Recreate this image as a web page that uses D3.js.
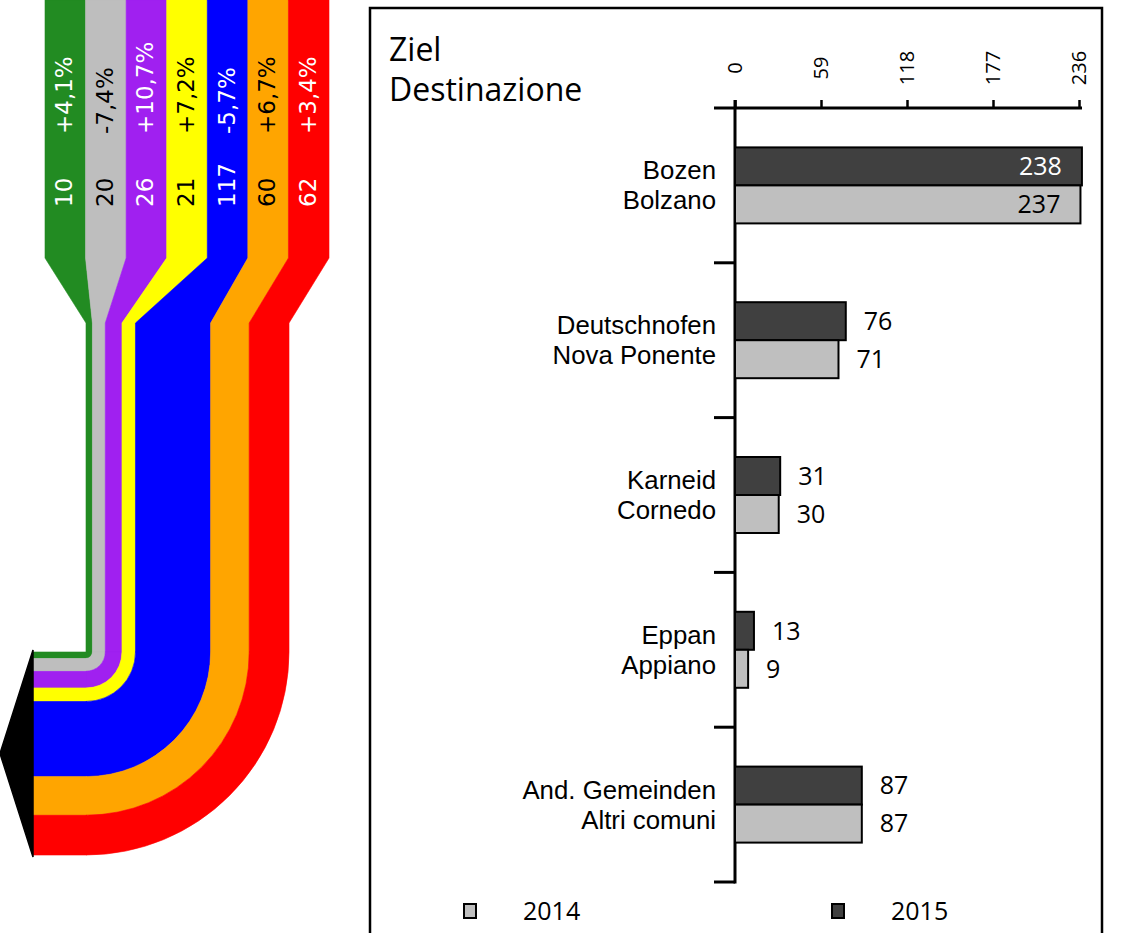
<!DOCTYPE html>
<html>
<head>
<meta charset="utf-8">
<script src="https://cdn.jsdelivr.net/npm/d3@7"></script>
<style>
  html, body { margin: 0; padding: 0; background: #fff; }
  svg { display: block; }
</style>
</head>
<body>
<svg id="chart" width="1122" height="933"></svg>
<script>
// ---- Flow (left): commuter streams by origin ----
const flowValues  = [10, 20, 26, 21, 117, 60, 62];
const flowChanges = ["+4,1%", "-7,4%", "+10,7%", "+7,2%", "-5,7%", "+6,7%", "+3,4%"];
const flowColors  = ["#228b22", "#bebebe", "#a020f0", "#ffff00", "#0000ff", "#ffa500", "#ff0000"];
const flowInk     = ["#fff", "#000", "#fff", "#000", "#fff", "#000", "#fff"];

// ---- Bars (right): destinations ----
const destinations = [["Bozen", "Bolzano"], ["Deutschnofen", "Nova Ponente"], ["Karneid", "Cornedo"],
                      ["Eppan", "Appiano"], ["And. Gemeinden", "Altri comuni"]];
const values2015 = [238, 76, 31, 13, 87];
const values2014 = [237, 71, 30, 9, 87];
const axisTicks = [0, 59, 118, 177, 236];
const years = ["2014", "2015"];
const yearColors = ["#bfbfbf", "#404040"];

const svg = d3.select("#chart");
const FLOW_FONT = "'DejaVu Sans', Verdana, sans-serif";
const FONT = "'Open Sans', 'Noto Sans', sans-serif";
const LABEL_FONT = "'Liberation Sans', Arial, sans-serif";

// ================= Flow diagram =================
const total = d3.sum(flowValues);
const cum = d3.cumsum([0, ...flowValues]);
const colX = d3.scaleBand().domain(d3.range(flowValues.length)).range([45, 329]).paddingInner(0);
const w = d3.scaleLinear().domain([0, total]).range([0, 203]);

const cx = 86, cy = 652;            // corner of the bend
const yTopEnd = 258, yNarrow = 323; // taper from columns into the bundle
const xLeft = 33;                   // bundle end at the arrow

const flow = svg.append("g");
flowValues.forEach((v, i) => {
  const r0 = w(cum[i]), r1 = w(cum[i + 1]);
  const x0 = colX(i), x1 = colX(i) + colX.bandwidth();
  // column + taper + straight vertical run
  const path = d3.path();
  path.moveTo(x0, 0);
  path.lineTo(x1, 0);
  path.lineTo(x1, yTopEnd);
  path.lineTo(cx + r1, yNarrow);
  path.lineTo(cx + r1, cy);
  path.lineTo(cx + r0, cy);
  path.lineTo(cx + r0, yNarrow);
  path.lineTo(x0, yTopEnd);
  path.closePath();
  flow.append("path").attr("d", path.toString()).attr("fill", flowColors[i])
      .attr("stroke", flowColors[i]).attr("stroke-width", 0.6);
  // the bend
  const arc = d3.arc().innerRadius(r0).outerRadius(r1).startAngle(Math.PI / 2).endAngle(Math.PI);
  flow.append("path").attr("transform", `translate(${cx},${cy})`).attr("d", arc())
      .attr("fill", flowColors[i]).attr("stroke", flowColors[i]).attr("stroke-width", 0.6);
  // horizontal run to the arrow
  flow.append("rect").attr("x", xLeft).attr("y", cy + r0).attr("width", cx - xLeft + 0.5)
      .attr("height", r1 - r0).attr("fill", flowColors[i])
      .attr("stroke", flowColors[i]).attr("stroke-width", 0.6);
});

// arrow head
const yA0 = cy - 2, yA1 = cy + w(total) + 2;
flow.append("path")
  .attr("d", `M${xLeft},${yA0} L0,${(yA0 + yA1) / 2} L${xLeft},${yA1} Z`)
  .attr("fill", "#000").attr("stroke", "#000").attr("stroke-width", 1.5);

// column labels (rotated)
flowValues.forEach((v, i) => {
  const xc = colX(i) + colX.bandwidth() / 2 + 7;
  flow.append("text").attr("transform", `translate(${xc},207) rotate(-90)`)
    .attr("font-family", FLOW_FONT).attr("font-size", 23).attr("fill", flowInk[i])
    .text(v);
  flow.append("text").attr("transform", `translate(${xc},134) rotate(-90)`)
    .attr("font-family", FLOW_FONT).attr("font-size", 23).attr("fill", flowInk[i])
    .text(flowChanges[i]);
});

// ================= Bar chart =================
const panel = svg.append("g");
panel.append("rect").attr("x", 370).attr("y", 8).attr("width", 732).attr("height", 960)
  .attr("fill", "none").attr("stroke", "#000").attr("stroke-width", 2.5);

const title = panel.append("text").attr("font-family", FONT).attr("font-size", 32).attr("fill", "#000");
title.append("tspan").attr("x", 389).attr("y", 61).text("Ziel");
title.append("tspan").attr("x", 389).attr("y", 101).text("Destinazione");

const x = d3.scaleLinear().domain([0, 236]).range([735, 1079]);
const y = d3.scaleBand().domain(d3.range(destinations.length)).range([108, 882]);
const barH = 38;

// top axis
const axisTop = d3.axisTop(x).tickValues(axisTicks).tickSize(8).tickSizeOuter(0).tickFormat("");
const gx = panel.append("g").attr("transform", `translate(0,${y.range()[0]})`).call(axisTop);
gx.select(".domain").remove();
gx.selectAll(".tick line").attr("stroke", "#000").attr("stroke-width", 2.5);
gx.append("line").attr("x1", x(0) - 21).attr("x2", x(236) + 3).attr("y1", 0).attr("y2", 0)
  .attr("stroke", "#000").attr("stroke-width", 3);
gx.selectAll(".tickLabel").data(axisTicks).join("text")
  .attr("class", "tickLabel")
  .attr("transform", d => `translate(${x(d) + 7},${68 - y.range()[0]}) rotate(-90)`)
  .attr("font-family", FONT).attr("font-size", 20).attr("fill", "#000")
  .text(d => d);

// left axis with category separators
const gy = panel.append("g");
gy.append("line").attr("x1", x(0)).attr("x2", x(0)).attr("y1", y.range()[0] - 8).attr("y2", y.range()[1] + 1.5)
  .attr("stroke", "#000").attr("stroke-width", 3);
const seps = destinations.map((d, i) => y(i) + y.bandwidth());
gy.selectAll(".sep").data(seps).join("line")
  .attr("x1", x(0) - 21).attr("x2", x(0)).attr("y1", d => d).attr("y2", d => d)
  .attr("stroke", "#000").attr("stroke-width", 3);

// bars
const cats = panel.selectAll(".cat").data(destinations).join("g")
  .attr("transform", (d, i) => `translate(0,${y(i) + y.bandwidth() / 2})`);

cats.append("rect").attr("x", x(0)).attr("y", -barH)
  .attr("width", (d, i) => x(values2015[i]) - x(0)).attr("height", barH)
  .attr("fill", yearColors[1]).attr("stroke", "#000").attr("stroke-width", 2);
cats.append("rect").attr("x", x(0)).attr("y", 0)
  .attr("width", (d, i) => x(values2014[i]) - x(0)).attr("height", barH)
  .attr("fill", yearColors[0]).attr("stroke", "#000").attr("stroke-width", 2);

// value labels
function valueLabel(sel, vals, dy, insideColor) {
  sel.append("text")
    .attr("x", (d, i) => vals[i] > 200 ? x(vals[i]) - 20 : x(vals[i]) + 18)
    .attr("y", dy).attr("dy", "0.35em")
    .attr("text-anchor", (d, i) => vals[i] > 200 ? "end" : "start")
    .attr("font-family", FONT).attr("font-size", 25)
    .attr("fill", (d, i) => vals[i] > 200 ? insideColor : "#000")
    .text((d, i) => vals[i]);
}
valueLabel(cats, values2015, -barH / 2, "#fff");
valueLabel(cats, values2014, barH / 2, "#000");

// category names (German / Italian on two lines)
const names = cats.append("text").attr("text-anchor", "end")
  .attr("font-family", LABEL_FONT).attr("font-size", 25.8).attr("fill", "#000");
names.append("tspan").attr("x", 716).attr("y", -15).attr("dy", "0.35em").text(d => d[0]);
names.append("tspan").attr("x", 716).attr("y", 15).attr("dy", "0.35em").text(d => d[1]);

// legend
const legendX = [464, 832];
const legend = panel.selectAll(".leg").data(years).join("g")
  .attr("transform", (d, i) => `translate(${legendX[i]},911)`);
legend.append("rect").attr("x", 0).attr("y", -7).attr("width", 12).attr("height", 14)
  .attr("fill", (d, i) => yearColors[i]).attr("stroke", "#000").attr("stroke-width", 2);
legend.append("text").attr("x", 59).attr("y", 0).attr("dy", "0.35em")
  .attr("font-family", FONT).attr("font-size", 25).attr("fill", "#000").text(d => d);
</script>
</body>
</html>
